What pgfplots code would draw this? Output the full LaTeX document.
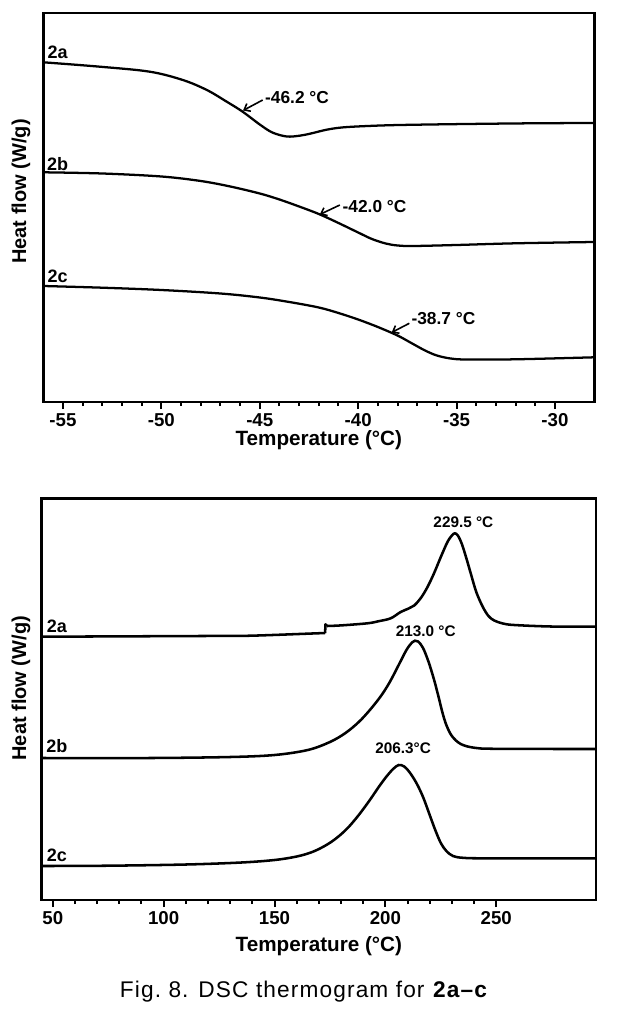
\documentclass[border=0pt]{standalone}
\usepackage{pgfplots}
\pgfplotsset{compat=1.18}
\usetikzlibrary{arrows.meta}
\usepackage{fontspec}
\setmainfont{Liberation Sans}
\newfontfamily\capfont[LetterSpace=5]{Liberation Sans}

\pgfplotstableread{
T v
-56.00 339.7
-53.13 335.3
-50.59 330.3
-48.91 322.0
-47.69 312.0
-46.68 300.3
-45.87 290.3
-45.00 277.5
-44.36 269.5
-43.63 265.5
-42.97 266.3
-42.40 268.5
-41.60 272.3
-40.78 274.6
-39.50 276.0
-37.88 277.0
-34.48 278.0
-31.12 278.7
-28.00 279.0
}\lowA

\pgfplotstableread{
T v
-56.0 229.7
-53.0 228.5
-50.0 225.5
-48.0 221.0
-46.5 215.5
-45.0 208.5
-44.0 202.5
-43.0 195.5
-42.0 188.0
-41.0 179.0
-40.0 169.5
-39.3 163.0
-38.6 158.5
-38.0 156.5
-37.2 156.0
-35.0 157.0
-32.0 158.7
-28.0 160.0
}\lowB

\pgfplotstableread{
T v
-56.0 116.0
-53.0 114.3
-50.0 112.0
-47.0 108.5
-45.0 104.5
-43.5 100.0
-42.0 94.5
-41.0 89.0
-40.0 82.5
-39.0 75.0
-38.0 66.5
-37.3 59.0
-36.6 51.5
-36.0 46.5
-35.3 43.5
-34.5 42.5
-32.0 42.7
-28.0 44.7
}\lowC

\pgfplotstableread{
T v
45.0 263.3
116.6 264.0
139.2 264.3
169.3 266.7
172.8 266.9
}\highAa

\pgfplotstableread{
T v
172.8 266.9
173.0 275.7
173.7 274.0
}\highAb

\pgfplotstableread{
T v
173.7 274.0
180.0 274.6
191.9 276.7
197.0 278.8
202.4 281.7
206.9 288.0
210.5 291.5
213.0 294.5
216.0 302.0
219.0 313.0
222.0 327.0
225.0 343.0
228.0 358.0
230.0 364.5
231.3 366.7
232.7 364.5
234.5 356.0
236.5 342.0
238.5 326.7
241.0 308.0
243.9 293.3
246.5 284.0
249.1 279.5
253.0 276.5
258.1 275.0
274.7 273.5
295.0 273.3
}\highAc

\pgfplotstableread{
T v
45.0 142.0
94.0 142.0
130.0 143.0
150.0 145.0
165.0 150.0
175.0 158.0
182.0 167.0
188.0 178.0
193.0 190.0
198.0 204.0
202.0 218.0
206.0 235.0
209.5 250.0
212.0 257.5
213.3 259.3
214.8 258.5
217.0 252.0
219.5 238.0
222.0 220.0
224.0 203.0
225.8 187.0
227.5 175.0
230.0 164.0
234.0 156.0
240.0 152.3
250.0 151.2
295.0 151.0
}\highB

\pgfplotstableread{
T v
45.0 34.0
75.0 34.3
110.0 35.5
135.0 37.5
150.0 40.0
160.0 43.5
167.0 48.0
173.0 54.5
178.0 62.0
183.0 72.0
188.0 85.0
193.0 100.0
197.0 113.0
200.5 123.5
203.5 131.0
206.0 135.0
208.5 133.5
211.0 127.5
214.0 117.0
217.0 103.0
220.0 85.0
222.5 70.0
225.0 57.0
227.5 49.0
230.5 44.0
235.0 42.2
245.0 41.7
295.0 41.7
}\highC

\pgfplotsset{
  dsc/.style={
    scale only axis,
    axis line style={line width=2pt},
    ytick=\empty,
    xtick pos=bottom,
    tick align=outside,
    major tick length=5.25pt,
    minor tick length=3pt,
    tick style={black, line width=1.5pt},
    minor x tick num=4,
    /pgf/number format/assume math mode=true,
    xticklabel style={font=\bfseries\fontsize{14}{16}\selectfont},
    xlabel style={font=\bfseries\fontsize{15.5}{17}\selectfont, at={(axis description cs:0.5,0)}, anchor=center},
    ylabel style={font=\bfseries\fontsize{15}{17}\selectfont, anchor=center},
    clip=false,
  },
}
\tikzset{
  lbl/.style={font=\bfseries\fontsize{13.5}{15}\selectfont, inner sep=0pt},
  ann/.style={font=\bfseries\fontsize{13}{15}\selectfont, inner sep=0pt, anchor=west},
  pk/.style={font=\bfseries\fontsize{11.5}{13}\selectfont, inner sep=0pt},
  arr/.style={line width=1.2pt, -{Straight Barb[length=4pt,width=6.5pt]}},
}

\begin{document}
\begin{tikzpicture}
\path[use as bounding box] (0,0) rectangle (462.75pt,-759pt);

\begin{axis}[dsc,
  at={(32.475pt,-301.5pt)}, anchor=south west,
  width=413.25pt, height=291.75pt,
  xmin=-56, xmax=-28, ymin=0, ymax=389,
  xtick={-55,-50,-45,-40,-35,-30},
  xlabel={Temperature (°C)},
  xlabel style={yshift=-28.5pt},
  ylabel={Heat flow (W/g)},
  ylabel style={at={(axis description cs:-0.0405,0.541)}},
]
\addplot[black, line width=1.7pt, smooth, tension=0.55] table[x=T,y=v] {\lowA};
\addplot[black, line width=1.7pt, smooth, tension=0.55] table[x=T,y=v] {\lowB};
\addplot[black, line width=1.7pt, smooth, tension=0.55] table[x=T,y=v] {\lowC};
\node[lbl] at (axis cs:-55.27,350) {2a};
\node[lbl] at (axis cs:-55.27,238) {2b};
\node[lbl] at (axis cs:-55.27,126) {2c};
\draw[arr] (axis cs:-44.85,302) -- (axis cs:-45.85,291.5);
\node[ann] at (axis cs:-44.74,304) {-46.2 °C};
\draw[arr] (axis cs:-40.93,197) -- (axis cs:-41.95,187.5);
\node[ann] at (axis cs:-40.8,195) {-42.0 °C};
\draw[arr] (axis cs:-37.4,78.7) -- (axis cs:-38.3,69.5);
\node[ann] at (axis cs:-37.3,83.7) {-38.7 °C};
\end{axis}

\begin{axis}[dsc,
  at={(31.275pt,-675pt)}, anchor=south west,
  width=415.725pt, height=301.275pt,
  xmin=45, xmax=295, ymin=0, ymax=401.7,
  xtick={50,100,150,200,250},
  xlabel={Temperature (°C)},
  xlabel style={yshift=-34.5pt},
  ylabel={Heat flow (W/g)},
  ylabel style={at={(axis description cs:-0.0373,0.527)}},
]
\addplot[black, line width=1.9pt, smooth, tension=0.5, line join=round] table[x=T,y=v] {\highAa};
\addplot[black, line width=1.9pt, sharp plot, line join=round] table[x=T,y=v] {\highAb};
\addplot[black, line width=1.9pt, smooth, tension=0.55, line join=round] table[x=T,y=v] {\highAc};
\addplot[black, line width=1.9pt, smooth, tension=0.55] table[x=T,y=v] {\highB};
\addplot[black, line width=1.9pt, smooth, tension=0.55] table[x=T,y=v] {\highC};
\node[lbl] at (axis cs:51.8,274) {2a};
\node[lbl] at (axis cs:51.8,154) {2b};
\node[lbl] at (axis cs:51.8,45) {2c};
\node[pk] at (axis cs:235.2,377.3) {229.5 °C};
\node[pk] at (axis cs:218.2,268.3) {213.0 °C};
\node[pk] at (axis cs:208.0,152) {206.3°C};
\end{axis}

\node[font=\capfont\fontsize{17}{19}\selectfont, inner sep=0pt] at (228pt,-744pt) {Fig.\ 8. DSC thermogram for \textbf{2a–c}};
\end{tikzpicture}
\end{document}
